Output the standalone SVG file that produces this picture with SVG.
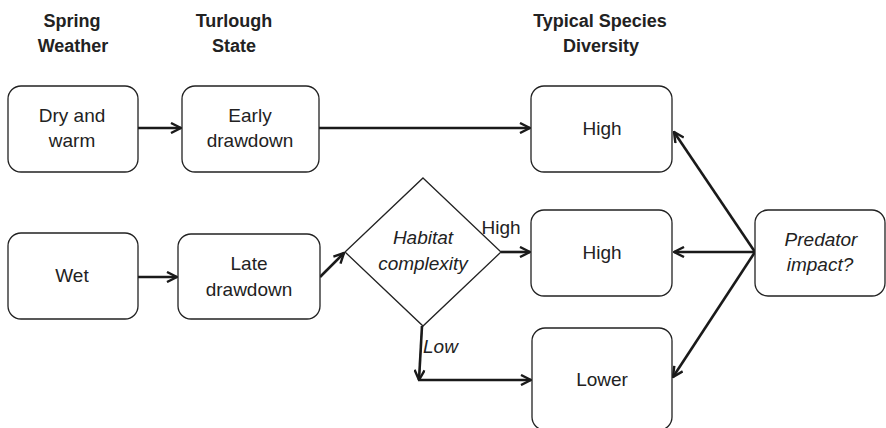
<svg xmlns="http://www.w3.org/2000/svg" width="886" height="428" viewBox="0 0 886 428">
<style>
.box{fill:#fff;stroke:#222;stroke-width:1.3}
.hdr{font-family:"Liberation Sans",Arial,sans-serif;font-weight:bold;font-size:18px;fill:#222;text-anchor:middle}
.t{font-family:"Liberation Sans",Arial,sans-serif;font-size:19px;fill:#222;text-anchor:middle}
.i{font-style:italic}
.c{fill:none;stroke:#1a1a1a;stroke-width:2.6}
</style>
<defs>
<marker id="arr" viewBox="0 0 12 12" markerWidth="12" markerHeight="12" markerUnits="userSpaceOnUse" refX="11" refY="6" orient="auto">
<path d="M1,1 L11,6 L1,11" fill="none" stroke="#1a1a1a" stroke-width="2.4"/>
</marker>
</defs>
<rect width="886" height="428" fill="#fff"/>
<g id="headers">
<text class="hdr" x="72" y="27">Spring</text>
<text class="hdr" x="73" y="52">Weather</text>
<text class="hdr" x="234" y="27">Turlough</text>
<text class="hdr" x="234" y="52">State</text>
<text class="hdr" x="600" y="27">Typical Species</text>
<text class="hdr" x="601" y="52">Diversity</text>
</g>
<g id="connectors">
<line class="c" x1="138" y1="128" x2="181" y2="128" marker-end="url(#arr)"/>
<line class="c" x1="319" y1="128" x2="530" y2="128" marker-end="url(#arr)"/>
<line class="c" x1="138" y1="277" x2="177" y2="277" marker-end="url(#arr)"/>
<line class="c" x1="320" y1="277" x2="344" y2="253" marker-end="url(#arr)"/>
<line class="c" x1="501" y1="252" x2="530" y2="252" marker-end="url(#arr)"/>
<line class="c" x1="422" y1="326" x2="419" y2="380" marker-end="url(#arr)"/>
<line class="c" x1="418" y1="380" x2="531" y2="380" marker-end="url(#arr)"/>
<line class="c" x1="755" y1="252" x2="674" y2="132" marker-end="url(#arr)"/>
<line class="c" x1="755" y1="252" x2="674" y2="252" marker-end="url(#arr)"/>
<line class="c" x1="755" y1="252" x2="673" y2="377" marker-end="url(#arr)"/>
</g>
<g id="dry">
<rect class="box" x="8" y="86" width="130" height="86" rx="13"/>
<text class="t" x="72" y="122">Dry and</text>
<text class="t" x="72" y="147">warm</text>
</g>
<g id="early">
<rect class="box" x="182" y="86" width="137" height="86" rx="13"/>
<text class="t" x="250" y="122">Early</text>
<text class="t" x="250" y="147">drawdown</text>
</g>
<g id="wet">
<rect class="box" x="8" y="233" width="130" height="86" rx="13"/>
<text class="t" x="72" y="282">Wet</text>
</g>
<g id="late">
<rect class="box" x="178" y="234" width="142" height="85" rx="13"/>
<text class="t" x="249" y="270">Late</text>
<text class="t" x="249" y="296">drawdown</text>
</g>
<g id="habitat">
<polygon class="box" points="423,178 501,252 423,326 345,252"/>
<text class="t i" x="423" y="244">Habitat</text>
<text class="t i" x="423" y="270">complexity</text>
</g>
<g id="high1">
<rect class="box" x="531" y="86" width="141" height="86" rx="13"/>
<text class="t" x="602" y="135">High</text>
</g>
<g id="high2">
<rect class="box" x="531" y="210" width="141" height="86" rx="13"/>
<text class="t" x="602" y="259">High</text>
</g>
<g id="lower">
<rect class="box" x="532" y="328" width="140" height="102" rx="13"/>
<text class="t" x="602" y="386">Lower</text>
</g>
<g id="predator">
<rect class="box" x="755" y="210" width="130" height="86" rx="13"/>
<text class="t i" x="821" y="246">Predator</text>
<text class="t i" x="820" y="271">impact?</text>
</g>
<g id="labels">
<text class="t" x="501" y="234">High</text>
<text class="t i" x="423" y="353" style="text-anchor:start">Low</text>
</g>
</svg>
